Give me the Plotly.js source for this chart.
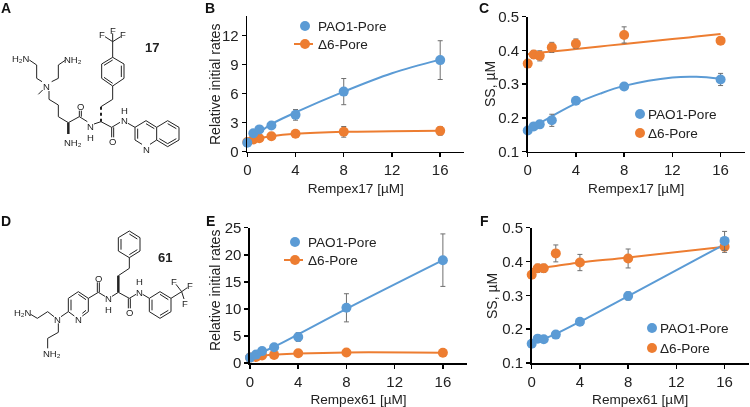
<!DOCTYPE html>
<html>
<head>
<meta charset="utf-8">
<script src="https://cdn.plot.ly/plotly-3.0.1.min.js"></script>
<style>html,body{margin:0;padding:0;background:#fff}#chart{will-change:transform}</style>
</head>
<body>
<div id="chart" style="width:750px;height:407px"></div>
<script>
const conc = [0, 0.5, 1, 2, 4, 8, 16];

// panel B
const bPao = [0.93, 1.9, 2.3, 2.7, 3.8, 6.2, 9.45];
const bPaoErr = [0.1, 0.2, 0.2, 0.25, 0.55, 1.35, 2.0];
const bD6 = [1.0, 1.27, 1.38, 1.6, 1.85, 2.05, 2.15];
const bD6Err = [0.1, 0.1, 0.1, 0.15, 0.2, 0.55, 0.45];
const bFitX = [0, 1, 2, 4, 8, 12, 16];
const bPaoFit = [1.0, 2.0, 2.85, 4.05, 6.2, 8.1, 9.5];
const bD6Fit = [1.0, 1.38, 1.6, 1.85, 2.05, 2.1, 2.15];

// panel C
const cPao = [0.163, 0.175, 0.181, 0.193, 0.251, 0.293, 0.314];
const cPaoErr = [0.006, 0.006, 0.008, 0.018, 0.006, 0.006, 0.018];
const cD6 = [0.361, 0.388, 0.384, 0.409, 0.42, 0.446, 0.429];
const cD6Err = [0, 0.012, 0.015, 0.015, 0.014, 0.024, 0];
const cFitX = [0, 1, 2, 4, 6, 8, 12, 14, 16];
const cPaoFit = [0.163, 0.185, 0.205, 0.243, 0.272, 0.295, 0.32, 0.322, 0.316];
const cD6Fit = [0.389, 0.393, 0.397, 0.404, 0.412, 0.419, 0.434, 0.441, 0.449];

// panel E
const ePao = [1.0, 1.55, 2.2, 2.9, 4.8, 10.2, 19.0];
const ePaoErr = [0.1, 0.2, 0.2, 0.3, 0.8, 2.6, 4.85];
const eD6 = [1.0, 1.1, 1.4, 1.5, 1.8, 1.95, 1.9];
const eD6Err = [0.1, 0.1, 0.1, 0.1, 0.2, 0.2, 0.2];
const eFitX = [0, 2, 4, 8, 16];
const ePaoFit = [1.0, 3.0, 5.3, 10.0, 19.0];
const eD6Fit = [1.0, 1.55, 1.75, 1.95, 1.9];

// panel F
const fPao = [0.157, 0.172, 0.17, 0.184, 0.222, 0.298, 0.461];
const fPaoErr = [0.005, 0.006, 0.006, 0.006, 0.006, 0.012, 0.028];
const fD6 = [0.361, 0.38, 0.38, 0.424, 0.397, 0.409, 0.444];
const fD6Err = [0, 0.012, 0.012, 0.025, 0.024, 0.028, 0.017];
const fFitX = [0, 2, 4, 8, 16];
const fPaoFit = [0.157, 0.186, 0.222, 0.298, 0.451];
const fD6Fit = [0.378, 0.387, 0.397, 0.412, 0.444];

const BLUE = '#5b9bd5';
const ORANGE = '#ed7d31';
const FONT = 'Liberation Sans, Arial, sans-serif';

// structures, [x1, y1, x2, y2] in crop pixels (3x), drawn on a page-wide hidden axis
const molABonds = [
  [88,180,110,195],[110,195,110,235],[110,235,126,245],[155,245,175,235],[175,235,175,195],[175,195,197,180],
  [128,270,115,283],[147,273,147,298],[147,298,175,315],[175,315,175,350],[175,350,205,368],[205,368,238,350],
  [238,350,238,332],[244,350,244,332],[238,350,262,365],[282,372,303,365],[303,365,335,382],
  [303,320,338,298],[338,298,338,258],
  [338,172,372,192],[372,192,372,235],[372,235,338,258],[338,258,305,235],[305,235,305,192],[305,192,338,172],
  [364,197,364,231],[338,180,312,196],[338,250,312,232],
  [338,172,338,125],[338,125,315,110],[338,125,338,100],[338,125,362,110],
  [335,382,335,412],[341,382,341,412],[335,382,360,367],[384,370,405,382],
  [405,382,438,362],[438,362,470,382],[470,382,470,420],[470,420,450,433],[426,433,405,420],[405,420,405,382],
  [413,386,413,416],[438,371,463,386],
  [470,382,503,362],[503,362,537,382],[537,382,537,420],[537,420,503,440],[503,440,470,420],
  [503,371,529,386],[529,416,503,431],[478,416,503,431]
];
const molAWedges = [[205,368,205,402]];
const molAHashes = [[303,365,303,320]];
const molALabels = [
  ['H₂N',62,175],['NH₂',220,177],['N',140,258],['O',240,320],['N',270,378],['H',272,411],
  ['NH₂',220,428],['F',307,103],['F',338,91],['F',368,103],['O',338,425],['N',372,362],['H',372,332],['N',438,447]
];

const molDBonds = [
  [388,78,420,98],[420,98,420,138],[420,138,388,158],[388,158,355,138],[355,138,355,98],[355,98,388,78],
  [388,87,412,102],[412,134,388,149],[363,102,363,134],
  [388,158,388,190],[388,190,355,212],[355,262,388,280],[385,280,385,310],[391,280,391,310],[388,280,408,268],
  [428,268,448,280],[448,280,480,260],[480,260,513,280],[513,280,513,320],[513,320,480,340],[480,340,448,320],[448,320,448,280],
  [456,284,456,316],[480,268,505,284],[505,316,480,331],
  [513,280,545,260],[545,260,528,238],[545,260,562,248],[545,260,552,282],
  [355,262,336,274],[315,274,295,262],[292,262,292,232],[298,262,298,232],[295,262,265,280],
  [265,280,235,260],[235,260,205,280],[205,280,205,320],[205,320,223,333],[247,333,265,320],[265,320,265,280],
  [235,268,258,284],[213,284,213,316],[247,325,258,316],
  [205,320,183,335],[162,335,143,320],[143,320,112,340],[112,340,92,328],[175,355,175,382],[175,382,143,400],[143,400,143,430]
];
const molDWedges = [[355,212,355,262]];
const molDLabels = [
  ['H₂N',70,323],['N',173,342],['N',235,342],['O',295,220],['N',325,281],['H',325,314],['O',388,322],
  ['N',418,262],['H',418,230],['F',522,228],['F',570,242],['F',556,295],['NH₂',155,445]
];

const panelLetters = [['A',6,8],['B',210,8],['C',484,8],['D',6,221],['E',210,221],['F',484,221]];
const yTitles = [['Relative initial rates',215,85],['SS, µM',490,84],['Relative initial rates',215,291],['SS, µM',492,296]];

// crop pixels to page pixels
function segs(list, oy) {
  const xs = [], ys = [];
  list.forEach(b => {
    xs.push(b[0] / 3, b[2] / 3, null);
    ys.push(oy + b[1] / 3, oy + b[3] / 3, null);
  });
  return {x: xs, y: ys};
}

function bondTrace(list, oy, width, dash) {
  const s = segs(list, oy);
  return {x: s.x, y: s.y, xaxis: 'x5', yaxis: 'y5', mode: 'lines', hoverinfo: 'skip',
    line: {color: '#222', width: width, dash: dash || 'solid'}};
}

function atomLabels(list, oy) {
  return list.map(l => ({xref: 'x5', yref: 'y5', x: l[1] / 3, y: oy + l[2] / 3, text: l[0], showarrow: false,
    borderpad: 0, font: {family: FONT, size: 9.5, color: '#222'}}));
}

function panel(n, fitX, paoFit, d6Fit, pao, paoErr, d6, d6Err) {
  const ax = 'x' + n, ay = 'y' + n;
  const fit = (y, c) => ({x: fitX, y: y, xaxis: ax, yaxis: ay, mode: 'lines', cliponaxis: false,
    line: {color: c, width: 2, shape: 'spline'}});
  const pts = (y, e, c) => ({x: conc, y: y, xaxis: ax, yaxis: ay, mode: 'markers', cliponaxis: false,
    marker: {color: c, size: 10},
    error_y: {type: 'data', array: e, visible: true, color: '#6f6f6f', thickness: 1, width: 2.5}});
  return [fit(d6Fit, ORANGE), fit(paoFit, BLUE), pts(d6, d6Err, ORANGE), pts(pao, paoErr, BLUE)];
}

function xAxis(left, title, anchor) {
  return {domain: [left / 750, (left + 217) / 750], range: [0, 18], anchor: anchor, tickvals: [0, 4, 8, 12, 16],
    showgrid: false, zeroline: false, showline: true, linecolor: '#000', linewidth: 1.6,
    ticks: 'outside', ticklen: 4, tickwidth: 1.5, tickcolor: '#000',
    tickfont: {family: FONT, size: 15, color: '#222'},
    title: {text: title, standoff: 6, font: {family: FONT, size: 13.6, color: '#222'}}};
}

function yAxis(bottom, top, range, tickvals, ticktext, anchor) {
  return {domain: [1 - bottom / 407, 1 - top / 407], range: range, anchor: anchor, tickvals: tickvals, ticktext: ticktext,
    showgrid: false, zeroline: false, showline: true, linecolor: '#000', linewidth: 1.6,
    ticks: 'outside', ticklen: 4, tickwidth: 1.5, tickcolor: '#000',
    tickfont: {family: FONT, size: 15, color: '#222'}};
}

// legend keys are drawn as marks plus text because the built-in legend key is too wide here
function legendKey(px, py, c, withLine) {
  const t = [{x: [px], y: [py], xaxis: 'x5', yaxis: 'y5', mode: 'markers', hoverinfo: 'skip', marker: {color: c, size: 10}}];
  if (withLine) {
    t.unshift({x: [px - 11, px + 8], y: [py, py], xaxis: 'x5', yaxis: 'y5', mode: 'lines', hoverinfo: 'skip', line: {color: c, width: 2}});
  }
  return t;
}

function legendText(px, py, text) {
  return {xref: 'x5', yref: 'y5', x: px, y: py, xanchor: 'left', text: text, showarrow: false, font: {family: FONT, size: 13.6, color: '#222'}};
}

const traces = [
  ...panel(1, bFitX, bPaoFit, bD6Fit, bPao, bPaoErr, bD6, bD6Err),
  ...panel(2, cFitX, cPaoFit, cD6Fit, cPao, cPaoErr, cD6, cD6Err),
  ...panel(3, eFitX, ePaoFit, eD6Fit, ePao, ePaoErr, eD6, eD6Err),
  ...panel(4, fFitX, fPaoFit, fD6Fit, fPao, fPaoErr, fD6, fD6Err),
  bondTrace(molABonds, 0, 1),
  bondTrace(molAWedges, 0, 2.5),
  bondTrace(molAHashes, 0, 2, 'dot'),
  bondTrace(molDBonds, 205, 1),
  bondTrace(molDWedges, 205, 2.5),
  ...legendKey(305, 26, BLUE, false),
  ...legendKey(305, 44, ORANGE, true),
  ...legendKey(640, 114, BLUE, false),
  ...legendKey(640, 133, ORANGE, false),
  ...legendKey(295, 242, BLUE, false),
  ...legendKey(295, 260, ORANGE, true),
  ...legendKey(652, 328, BLUE, false),
  ...legendKey(652, 348, ORANGE, false)
];

const annotations = [
  ...atomLabels(molALabels, 0),
  ...atomLabels(molDLabels, 205),
  ...panelLetters.map(p => ({xref: 'x5', yref: 'y5', x: p[1], y: p[2], text: '<b>' + p[0] + '</b>', showarrow: false,
    font: {family: FONT, size: 14, color: '#111'}})),
  ...yTitles.map(t => ({xref: 'x5', yref: 'y5', x: t[1], y: t[2], text: t[0], textangle: -90, showarrow: false,
    font: {family: FONT, size: 14, color: '#222'}})),
  {xref: 'x5', yref: 'y5', x: 152, y: 47, text: '<b>17</b>', showarrow: false, font: {family: FONT, size: 13, color: '#222'}},
  {xref: 'x5', yref: 'y5', x: 165, y: 257, text: '<b>61</b>', showarrow: false, font: {family: FONT, size: 13, color: '#222'}},
  legendText(316, 26, 'PAO1-Pore'),
  legendText(316, 44, 'Δ6-Pore'),
  legendText(646, 114, 'PAO1-Pore'),
  legendText(646, 133, 'Δ6-Pore'),
  legendText(658, 328, 'PAO1-Pore'),
  legendText(658, 348, 'Δ6-Pore'),
  legendText(306, 242, 'PAO1-Pore'),
  legendText(306, 260, 'Δ6-Pore')
];

const layout = {
  width: 750, height: 407, showlegend: false, paper_bgcolor: '#fff', plot_bgcolor: 'rgba(0,0,0,0)',
  margin: {l: 0, r: 0, t: 0, b: 0},
  annotations: annotations,
  xaxis: xAxis(247.3, 'Rempex17 [µM]', 'y'),
  yaxis: yAxis(151.7, 16, [0, 14], [0, 3, 6, 9, 12], null, 'x'),
  xaxis2: xAxis(527.7, 'Rempex17 [µM]', 'y2'),
  yaxis2: yAxis(151.7, 16.7, [0.1, 0.5], [0.1, 0.2, 0.3, 0.4, 0.5], ['0.1', '0.2', '0.3', '0.4', '0.5'], 'x2'),
  xaxis3: xAxis(250, 'Rempex61 [µM]', 'y3'),
  yaxis3: yAxis(363, 227.7, [0, 25], [0, 5, 10, 15, 20, 25], null, 'x3'),
  xaxis4: xAxis(531.7, 'Rempex61 [µM]', 'y4'),
  yaxis4: yAxis(363, 227.7, [0.1, 0.5], [0.1, 0.2, 0.3, 0.4, 0.5], ['0.1', '0.2', '0.3', '0.4', '0.5'], 'x4'),
  xaxis5: {domain: [0, 1], range: [0, 750], anchor: 'y5', visible: false},
  yaxis5: {domain: [0, 1], range: [407, 0], anchor: 'x5', visible: false}
};

Plotly.newPlot('chart', traces, layout, {staticPlot: true, displayModeBar: false});
</script>
</body>
</html>
